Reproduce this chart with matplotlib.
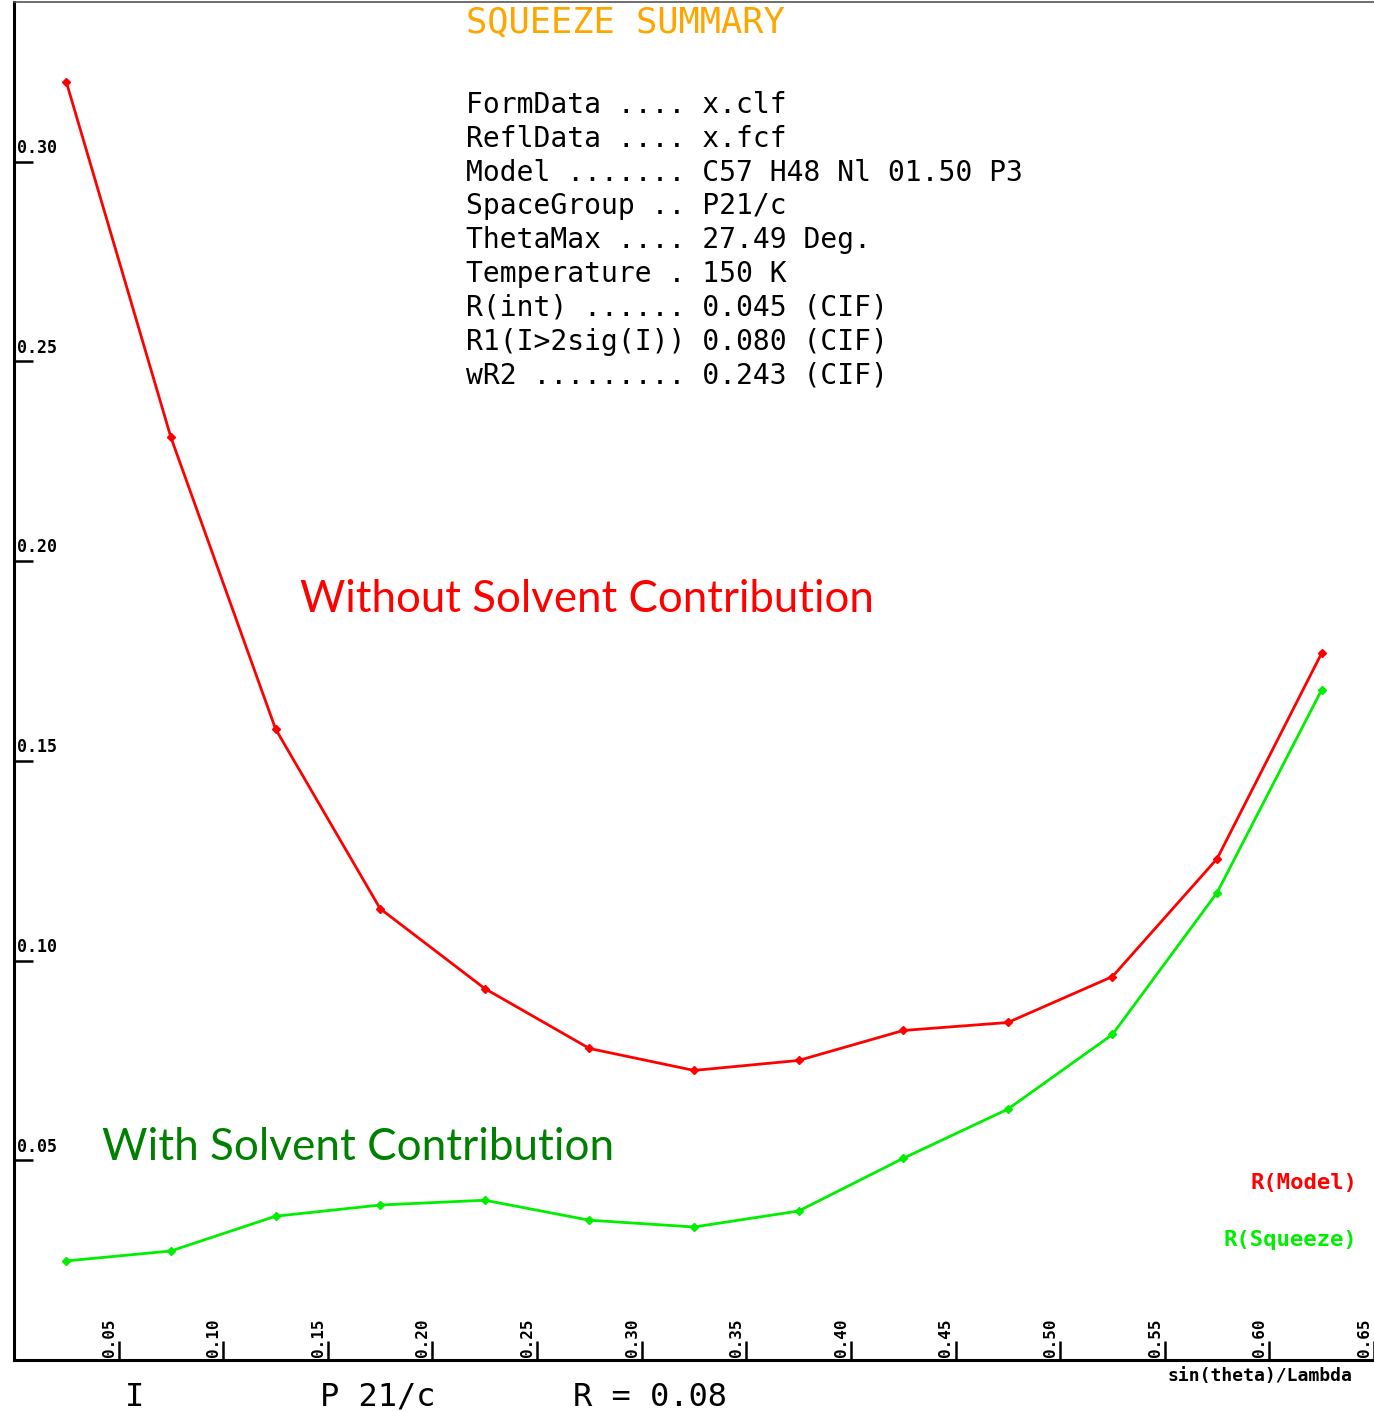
import matplotlib
matplotlib.use('Agg')
import matplotlib.pyplot as plt
import matplotlib.transforms as mtransforms

# data
x_vals = [0.025, 0.075, 0.125, 0.175, 0.225, 0.275, 0.325, 0.375, 0.425, 0.475, 0.525, 0.575, 0.625]
r_model = [0.320, 0.231, 0.158, 0.113, 0.093, 0.078, 0.0725, 0.075, 0.0825, 0.0845, 0.096, 0.1255, 0.177]
r_squeeze = [0.0248, 0.0273, 0.036, 0.0388, 0.040, 0.035, 0.0333, 0.0373, 0.0505, 0.0628, 0.0815, 0.117, 0.1678]
x_ticks = [0.05, 0.10, 0.15, 0.20, 0.25, 0.30, 0.35, 0.40, 0.45, 0.50, 0.55, 0.60, 0.65]
y_ticks = [0.05, 0.10, 0.15, 0.20, 0.25, 0.30]

info_lines = [
    "FormData .... x.clf",
    "ReflData .... x.fcf",
    "Model ....... C57 H48 Nl 01.50 P3",
    "SpaceGroup .. P21/c",
    "ThetaMax .... 27.49 Deg.",
    "Temperature . 150 K",
    "R(int) ...... 0.045 (CIF)",
    "R1(I>2sig(I)) 0.080 (CIF)",
    "wR2 ......... 0.243 (CIF)",
]

mono = 'DejaVu Sans Mono'

fig = plt.figure(figsize=(13.74, 14.11), dpi=100)
ax = fig.add_axes([14 / 1374, 51 / 1411, 1 - 14 / 1374, 1 - 53 / 1411])

ax.plot(x_vals, r_model, color='#ff0000', lw=2, marker='D', ms=4)
ax.plot(x_vals, r_squeeze, color='#00ee00', lw=2, marker='D', ms=4)

ax.set_xlim(0, 0.65)
ax.set_ylim(0, 0.34)

for s in ['left', 'bottom']:
    ax.spines[s].set_linewidth(2.2)
    ax.spines[s].set_color('black')
ax.spines['right'].set_visible(False)
ax.spines['top'].set_color('#555555')
ax.spines['top'].set_linewidth(1.2)

ax.set_xticks(x_ticks)
ax.set_yticks(y_ticks)
ax.tick_params(direction='in', length=14, width=1.8, labelbottom=False, labelleft=False)

# tick labels drawn inside the axes, as in the original plot
ytrans = mtransforms.blended_transform_factory(ax.transAxes, ax.transData)
for v in y_ticks:
    ax.text(0.002, v + 0.0012, f"{v:.2f}", transform=ytrans, fontsize=12,
            fontweight='bold', family=mono, ha='left', va='bottom')
xtrans = mtransforms.blended_transform_factory(ax.transData, ax.transAxes)
for v in x_ticks:
    ax.text(v - 0.001, 0.002, f"{v:.2f}", transform=xtrans, fontsize=11.5,
            fontweight='bold', family=mono, rotation=90, ha='right', va='bottom')

fig.text(466 / 1374, 1 - 22 / 1411, "SQUEEZE SUMMARY", color='#ffa500',
         fontsize=25.5, family=mono, ha='left', va='center')
fig.text(466 / 1374, 1 - 91 / 1411, "\n".join(info_lines), color='black',
         fontsize=20.2, family=mono, ha='left', va='top', linespacing=1.265)

fig.text(1357 / 1374, 1 - 1183 / 1411, "R(Model)", color='#ff0000',
         fontsize=16, family=mono, fontweight='bold', ha='right', va='center')
fig.text(1357 / 1374, 1 - 1240 / 1411, "R(Squeeze)", color='#00ee00',
         fontsize=16, family=mono, fontweight='bold', ha='right', va='center')

fig.text(1352 / 1374, 1 - 1376 / 1411, "sin(theta)/Lambda", color='black',
         fontsize=13, family=mono, fontweight='bold', ha='right', va='center')

fig.text(300 / 1374, 1 - 600 / 1411, "Without Solvent Contribution", color='#ff0000',
         fontsize=31.5, family='Lato', ha='left', va='center')
fig.text(102 / 1374, 1 - 1148 / 1411, "With Solvent Contribution", color='#008000',
         fontsize=31.7, family='Lato', ha='left', va='center')

fig.text(135 / 1374, 1 - 1397 / 1411, "I", fontsize=23, family=mono, ha='center', va='center')
fig.text(320 / 1374, 1 - 1397 / 1411, "P 21/c", fontsize=23, family=mono, ha='left', va='center')
fig.text(573 / 1374, 1 - 1397 / 1411, "R = 0.08", fontsize=23, family=mono, ha='left', va='center')

fig.savefig('out.png', dpi=100)
